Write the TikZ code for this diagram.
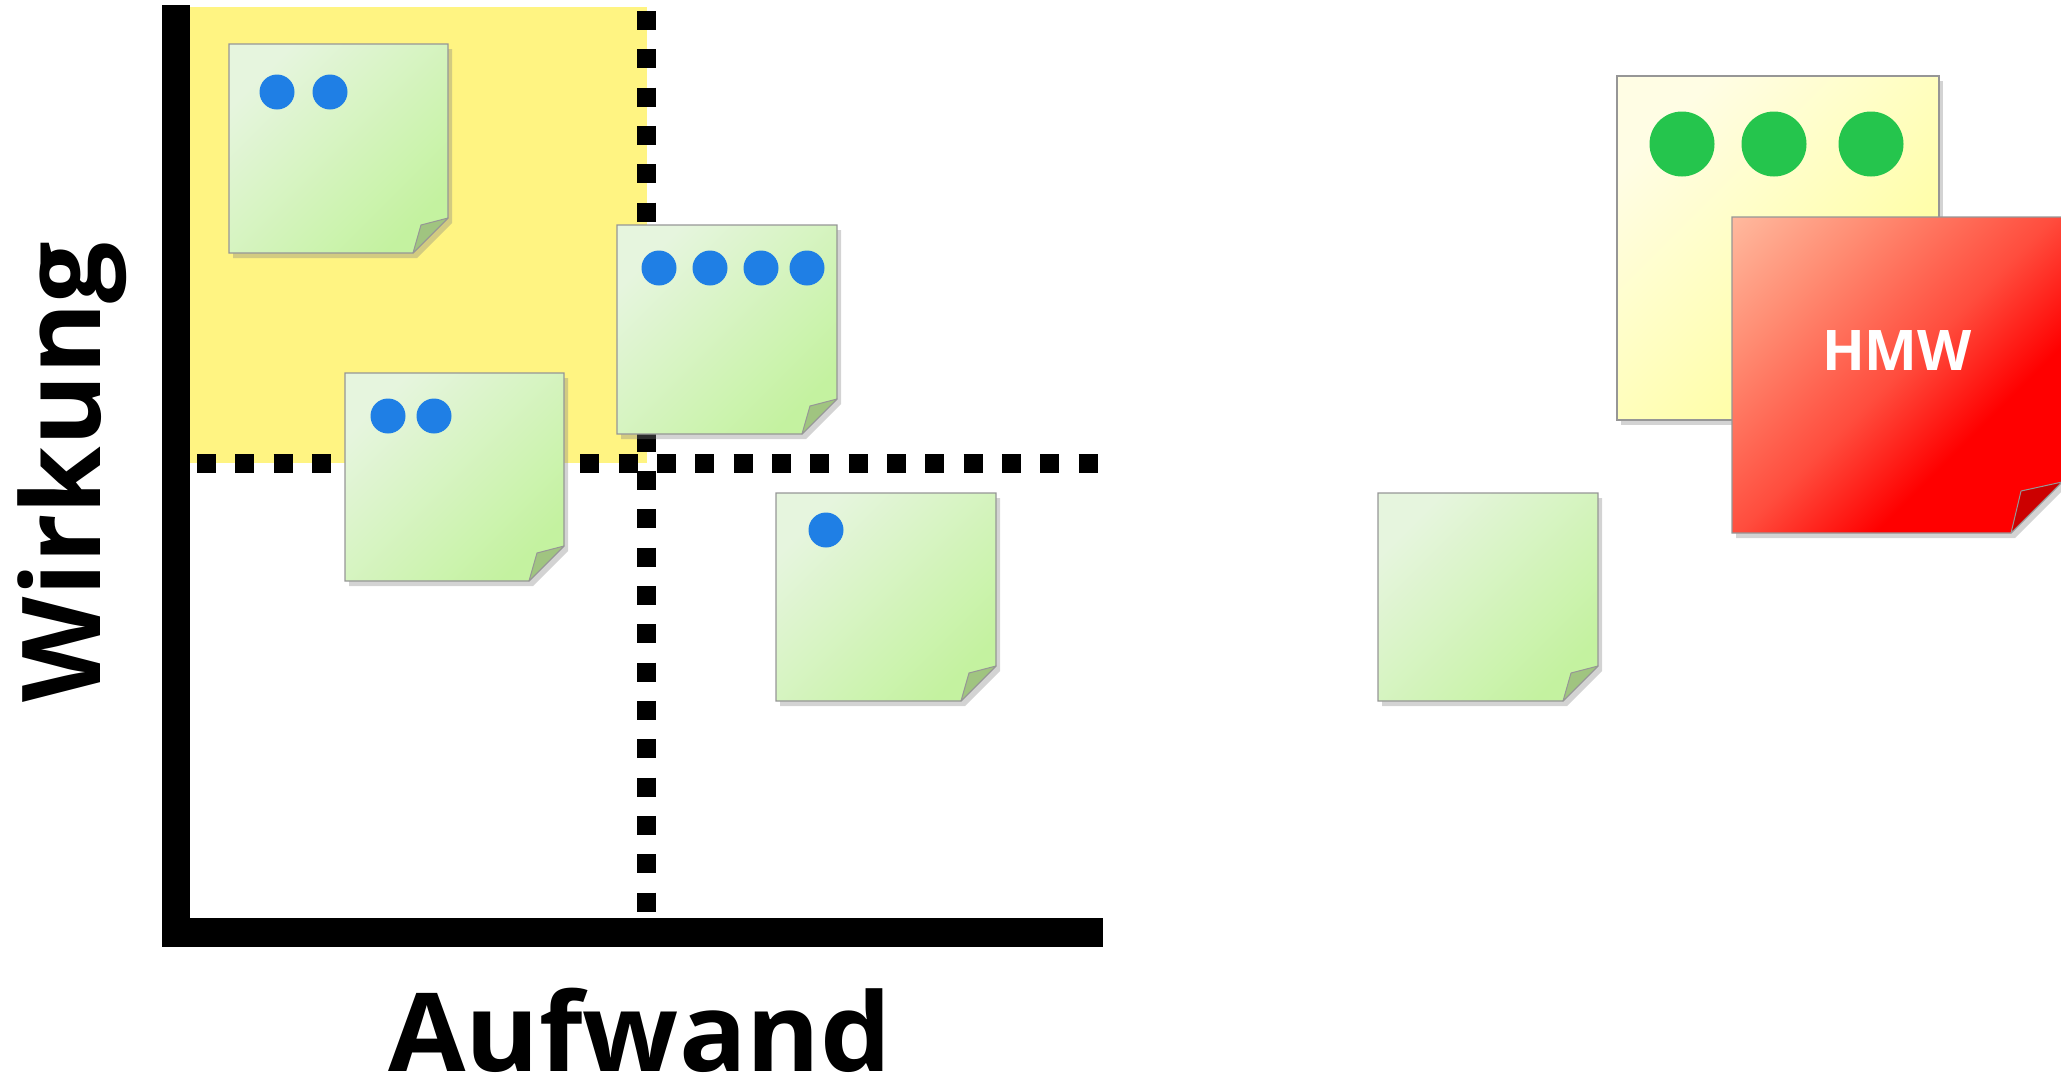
\documentclass[tikz,border=0pt]{standalone}
\usepackage{fontspec}
\setmainfont{Open Sans}
\usepackage{tikz}
\usetikzlibrary{shadows,calc}
\definecolor{areayellow}{RGB}{255,244,130}
\definecolor{notegray}{RGB}{150,150,150}
\definecolor{dotblue}{RGB}{31,127,229}
\definecolor{dotgreen}{RGB}{37,197,77}
\definecolor{greenA}{RGB}{230,245,222}
\definecolor{greenB}{RGB}{237,248,230}
\definecolor{greenC}{RGB}{196,242,160}
\definecolor{greenfold}{RGB}{160,196,128}
\definecolor{yellowA}{RGB}{255,253,228}
\definecolor{yellowB}{RGB}{255,255,150}
\definecolor{redfold}{RGB}{204,0,0}
\pgfdeclarehorizontalshading{redsticky}{100bp}{
  rgb(0bp)=(1,0.92,0.8); rgb(10bp)=(1,0.78,0.67); rgb(30bp)=(1,0.55,0.45);
  rgb(50bp)=(1,0.3,0.24); rgb(65bp)=(1,0,0); rgb(100bp)=(1,0,0)}
\tikzstyle{note} = [draw=notegray,line width=1.2pt,
  drop shadow={shadow xshift=4pt,shadow yshift=-5pt,opacity=0.35}]
\tikzstyle{greennote} = [note,top color=greenA,middle color=greenB,bottom color=greenC,shading angle=45]
\tikzstyle{fold} = [draw=notegray,line width=1pt,line join=round]
\tikzstyle{grid} = [line width=19pt,dash pattern=on 19pt off 19.33pt]
\tikzstyle{dot} = [circle,fill=dotblue,inner sep=0pt,minimum size=35pt]
\tikzstyle{bigdot} = [circle,fill=dotgreen,inner sep=0pt,minimum size=65pt]
\tikzstyle{axislabel} = [font=\fontsize{109}{120}\selectfont\bfseries,inner sep=0pt,text depth=0pt]

\begin{document}
\begin{tikzpicture}[>=latex,x=1pt,y=-1pt]
    \useasboundingbox (0,0) rectangle (2061,1077);

    % quadrant: high impact, low effort
    \fill [areayellow] (190,7) rectangle (647,463);
    \draw [grid] (646.5,11) -- (646.5,913);
    \draw [grid] (197,463) -- (1098,463);

    % axes
    \fill (162,5) rectangle (190,947);
    \fill (162,918) rectangle (1103,947);
    \node [axislabel,anchor=base,xscale=1.03] (aufwand) at (640,1071) {Aufwand};
    \node [axislabel,anchor=base,rotate=90] (wirkung) at (100,472) {Wirkung};

    % sticky notes in the matrix
    \draw [greennote] (229,44) -- (448,44) -- (448,218) -- (413,253) -- (229,253) -- cycle;
    \draw [fold,fill=greenfold] (413,253) -- (421,225) -- (448,218) -- cycle;
    \node [dot] (n1a) at (277,92) {};
    \node [dot] (n1b) at (330,92) {};

    \draw [greennote] (345,373) -- (564,373) -- (564,546) -- (529,581) -- (345,581) -- cycle;
    \draw [fold,fill=greenfold] (529,581) -- (537,553) -- (564,546) -- cycle;
    \node [dot] (n2a) at (388,416) {};
    \node [dot] (n2b) at (434,416) {};

    \draw [greennote] (617,225) -- (837,225) -- (837,399) -- (802,434) -- (617,434) -- cycle;
    \draw [fold,fill=greenfold] (802,434) -- (810,406) -- (837,399) -- cycle;
    \node [dot] (n3a) at (659,268) {};
    \node [dot] (n3b) at (710,268) {};
    \node [dot] (n3c) at (761,268) {};
    \node [dot] (n3d) at (807,268) {};

    \draw [greennote] (776,493) -- (996,493) -- (996,666) -- (961,701) -- (776,701) -- cycle;
    \draw [fold,fill=greenfold] (961,701) -- (969,673) -- (996,666) -- cycle;
    \node [dot] (n4a) at (826,530) {};

    % notes outside
    \draw [greennote] (1378,493) -- (1598,493) -- (1598,666) -- (1563,701) -- (1378,701) -- cycle;
    \draw [fold,fill=greenfold] (1563,701) -- (1571,673) -- (1598,666) -- cycle;

    \draw [note,top color=yellowA,bottom color=yellowB,shading angle=45] (1617,76) rectangle (1939,420);
    \node [bigdot] (g1) at (1682,144) {};
    \node [bigdot] (g2) at (1774,144) {};
    \node [bigdot] (g3) at (1871,144) {};

    \draw [note,shading=redsticky,shading angle=-45]
      (1732,217) -- (2062,217) -- (2062,482) -- (2011,533) -- (1732,533) -- cycle;
    \draw [fold,fill=redfold] (2011,533) -- (2021,491) -- (2062,482) -- cycle;
    \node [font=\fontsize{56}{60}\selectfont\bfseries,text=white,anchor=base,inner sep=0pt] (hmw) at (1897,370) {HMW};
  \end{tikzpicture}
\end{document}
